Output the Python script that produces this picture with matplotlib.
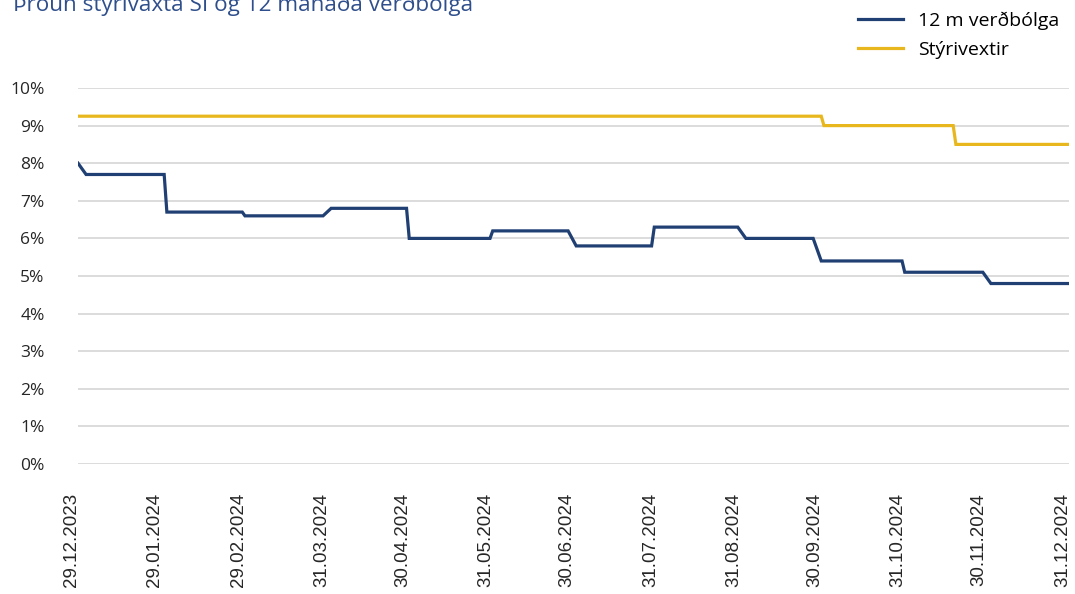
import pandas as pd
import matplotlib
matplotlib.use('Agg')
import matplotlib.pyplot as plt
import matplotlib.transforms as mtransforms

# data (percent), each level: first and last business day
cpi_start = ['2023-12-29', '2024-01-01', '2024-01-31', '2024-02-29', '2024-04-01', '2024-04-30', '2024-05-31',
             '2024-07-01', '2024-07-30', '2024-09-02', '2024-09-30', '2024-10-31', '2024-12-02']
cpi_end = ['2023-12-29', '2024-01-30', '2024-02-28', '2024-03-29', '2024-04-29', '2024-05-30', '2024-06-28',
           '2024-07-29', '2024-08-30', '2024-09-27', '2024-10-30', '2024-11-29', '2024-12-31']
cpi_level = [8.0, 7.7, 6.7, 6.6, 6.8, 6.0, 6.2, 5.8, 6.3, 6.0, 5.4, 5.1, 4.8]

rate_start = ['2023-12-29', '2024-10-01', '2024-11-19']
rate_end = ['2024-09-30', '2024-11-18', '2024-12-31']
rate_level = [9.25, 9.0, 8.5]

tick_dates = ['2023-12-29', '2024-01-29', '2024-02-29', '2024-03-31', '2024-04-30', '2024-05-31', '2024-06-30',
              '2024-07-31', '2024-08-31', '2024-09-30', '2024-10-31', '2024-11-30', '2024-12-31']
tick_labels = ['29.12.2023', '29.01.2024', '29.02.2024', '31.03.2024', '30.04.2024', '31.05.2024', '30.06.2024',
               '31.07.2024', '31.08.2024', '30.09.2024', '31.10.2024', '30.11.2024', '31.12.2024']

title = 'Þróun stýrivaxta SÍ og 12 mánaða verðbólga'
series_names = ['12 m verðbólga', 'Stýrivextir']

BLUE = '#203f73'
GOLD = '#e8b71e'


def step_path(starts, ends, levels):
    # each level drawn from its first to its last day
    xs, ys = [], []
    for s, e, v in zip(starts, ends, levels):
        xs += [pd.Timestamp(s), pd.Timestamp(e)]
        ys += [v, v]
    return xs, ys


fig = plt.figure(figsize=(10.75, 5.94), dpi=100)
ax = fig.add_axes([78 / 1075, 1 - 464 / 594, (1069 - 78) / 1075, (464 - 88) / 594])

x1, y1 = step_path(cpi_start, cpi_end, cpi_level)
x2, y2 = step_path(rate_start, rate_end, rate_level)
l1, = ax.plot(x1, y1, color=BLUE, lw=2.3, solid_joinstyle='miter', zorder=3)
l2, = ax.plot(x2, y2, color=GOLD, lw=2.3, solid_joinstyle='miter', zorder=3)

ax.set_xlim(pd.Timestamp(tick_dates[0]), pd.Timestamp(tick_dates[-1]))
ax.set_ylim(0, 10)

ax.set_yticks(range(0, 11))
ax.set_yticklabels(['%d%%' % v for v in range(0, 11)], family='Open Sans', fontsize=12.5, color='#262626')
ax.set_xticks([pd.Timestamp(d) for d in tick_dates])
ax.set_xticklabels(tick_labels, rotation=90, family='Liberation Sans', fontsize=13.5, color='#262626',
                   va='top', ha='center')
ax.tick_params(axis='both', length=0)
ax.tick_params(axis='y', pad=24)
ax.tick_params(axis='x', pad=21)
shift = mtransforms.ScaledTranslation(-6.5 / 100, 0, fig.dpi_scale_trans)
for lab in ax.get_xticklabels():
    lab.set_transform(lab.get_transform() + shift)

ax.grid(axis='y', color='#d9d9d9', lw=1.3)
ax.set_axisbelow(True)
for s in ax.spines.values():
    s.set_visible(False)

# title sits partly above the top edge, as in the source image
fig.text(13 / 1075, 1 - 10.7 / 594, title, family='Open Sans', fontsize=16.2, color='#2f4f8c',
         ha='left', va='baseline')

fig.legend([l1, l2], series_names, loc='upper left', bbox_to_anchor=(850 / 1075, 1 - 4 / 594),
           frameon=False, prop={'family': 'Open Sans', 'size': 14}, handlelength=2.3,
           handletextpad=0.82, labelspacing=0.55, borderaxespad=0)

fig.savefig('out.png', dpi=100)
